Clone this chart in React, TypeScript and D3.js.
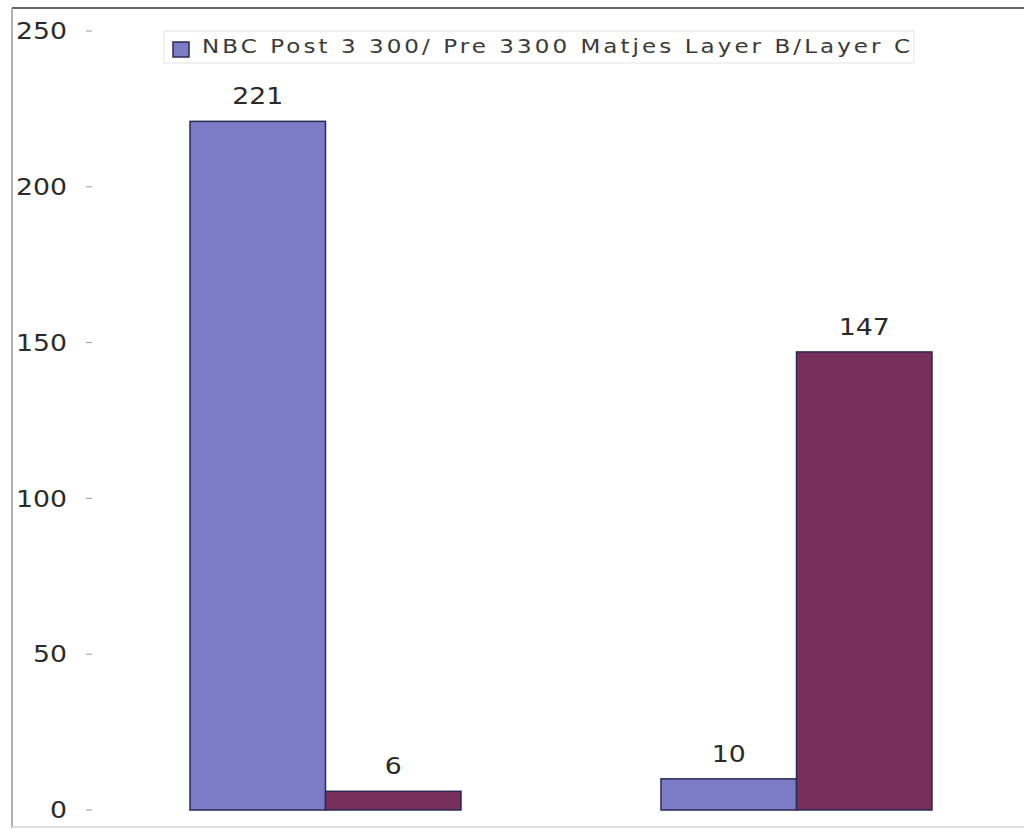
import React from "react";
import * as d3 from "d3";

const categories = ["Group A", "Group B"];
const seriesKeys = ["series1", "series2"];
const series1Values = [221, 10];
const series2Values = [6, 147];
const yTicks = [0, 50, 100, 150, 200, 250];
const legendLabel = "NBC Post 3 300/ Pre 3300 Matjes Layer B/Layer C";

const W = 1024;
const H = 830;
const colors = ["#7b7bc6", "#76305a"];
const digitW = 17;

export default function App() {
  const y = d3.scaleLinear().domain([0, 250]).range([810, 31]);
  const x = d3
    .scaleBand<string>()
    .domain(categories)
    .range([95.8, 1026.2])
    .paddingInner(0.4246)
    .paddingOuter(0.2);
  const xs = d3.scaleBand<string>().domain(seriesKeys).range([0, x.bandwidth()]);
  const data = [series1Values, series2Values];
  const font = "DejaVu Sans, Verdana, sans-serif";
  const legendScale = 1.15;

  return (
    <svg
      width={W}
      height={H}
      style={{ position: "absolute", left: 0, top: 0, background: "#fff" }}
      fontFamily={font}
    >
      <rect x={0} y={0} width={W} height={H} fill="#fff" />
      {/* frame */}
      <line x1={12} y1={8} x2={1024} y2={8} stroke="#666" strokeWidth={2} />
      <line x1={12} y1={8} x2={12} y2={828} stroke="#999" strokeWidth={1.5} />
      <line x1={12} y1={827} x2={1024} y2={827} stroke="#ddd" strokeWidth={2} />
      {/* y axis */}
      {yTicks.map((t) => (
        <g key={t}>
          <text
            x={67}
            y={y(t)}
            dy="0.36em"
            textAnchor="end"
            fontSize={23}
            fill="#2a2a2a"
            textLength={String(t).length * digitW}
            lengthAdjust="spacingAndGlyphs"
          >
            {t}
          </text>
          <line x1={86} x2={92} y1={y(t)} y2={y(t)} stroke="#999" strokeWidth={1} />
        </g>
      ))}
      {/* bars */}
      {categories.map((c, ci) =>
        seriesKeys.map((k, si) => {
          const v = data[si][ci];
          const bx = (x(c) as number) + (xs(k) as number);
          const bw = xs.bandwidth();
          return (
            <g key={c + k}>
              <rect
                x={bx}
                y={y(v)}
                width={bw}
                height={y(0) - y(v)}
                fill={colors[si]}
                stroke="#2a2a55"
                strokeWidth={1.5}
              />
              <text
                x={bx + bw / 2}
                y={y(v) - 17}
                textAnchor="middle"
                fontSize={23}
                fill="#2a2a2a"
                textLength={String(v).length * digitW}
                lengthAdjust="spacingAndGlyphs"
              >
                {v}
              </text>
            </g>
          );
        })
      )}
      {/* legend */}
      <rect x={164} y={31} width={750} height={32} fill="#fff" stroke="#e4e4e4" strokeWidth={1} />
      <rect x={173} y={42} width={16} height={15} fill={colors[0]} stroke="#2a2a55" strokeWidth={1.5} />
      <g transform={`translate(202,53) scale(${legendScale},1)`}>
        <text x={0} y={0} fontSize={20} fill="#3a3a3a" textLength={708 / legendScale} lengthAdjust="spacing">
          {legendLabel}
        </text>
      </g>
    </svg>
  );
}
